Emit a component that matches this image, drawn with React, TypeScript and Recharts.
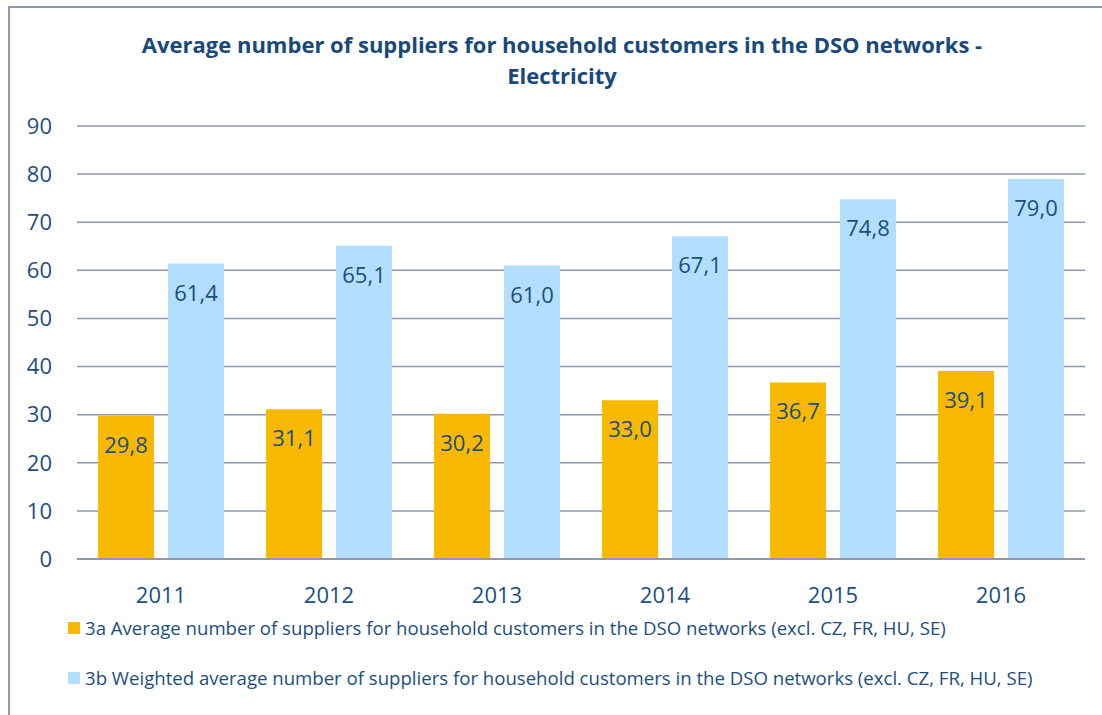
import * as React from "react";
import { Bar, BarChart, CartesianGrid, LabelList, XAxis, YAxis } from "recharts";

const years = ["2011", "2012", "2013", "2014", "2015", "2016"];
const avgSuppliers = [29.8, 31.1, 30.2, 33.0, 36.7, 39.1];
const weightedAvgSuppliers = [61.4, 65.1, 61.0, 67.1, 74.8, 79.0];
const yTicks = [0, 10, 20, 30, 40, 50, 60, 70, 80, 90];

const seriesA = "3a Average number of suppliers for household customers in the DSO networks (excl. CZ, FR, HU, SE)";
const seriesB =
  "3b Weighted average number of suppliers for household customers in the DSO networks (excl. CZ, FR, HU, SE)";

const TEXT = "#1B4F80";
const ORANGE = "#F9B800";
const LIGHT_BLUE = "#B3DEFD";
const GRID = "#8D98AC";
const FONT = "'Open Sans', sans-serif";

const data = years.map((year, i) => ({
  year,
  a: avgSuppliers[i],
  b: weightedAvgSuppliers[i],
}));

const fmt = (v: number) => v.toFixed(1).replace(".", ",");

function BarValue(props: any) {
  const { x, y, width, value } = props;
  return (
    <text
      x={x + width / 2}
      y={y + 37}
      textAnchor="middle"
      fill={TEXT}
      fontSize={22}
      fontFamily={FONT}
    >
      {fmt(value)}
    </text>
  );
}

function LegendRow({ color, label, top }: { color: string; label: string; top: number }) {
  return (
    <div style={{ position: "absolute", left: 68, top, display: "flex", alignItems: "center" }}>
      <div style={{ width: 12, height: 12, background: color, marginRight: 5 }} />
      <span style={{ fontSize: 18.6, color: TEXT, fontFamily: FONT, whiteSpace: "nowrap" }}>{label}</span>
    </div>
  );
}

export default function App() {
  return (
    <div
      style={{
        position: "absolute",
        left: 0,
        top: 0,
        width: 1102,
        height: 715,
        background: "#fff",
        overflow: "hidden",
        fontFamily: FONT,
      }}
    >
      <div
        style={{
          position: "absolute",
          left: 8,
          top: 6,
          width: 1200,
          height: 800,
          borderLeft: `2px solid ${GRID}`,
          borderTop: `2px solid ${GRID}`,
        }}
      />
      <div
        style={{
          position: "absolute",
          left: 0,
          top: 29,
          width: 1124,
          textAlign: "center",
          color: "#17497C",
          fontWeight: 700,
          fontSize: 22,
          lineHeight: "31px",
        }}
      >
        Average number of suppliers for household customers in the DSO networks -
        <br />
        Electricity
      </div>
      <div style={{ position: "absolute", left: 0, top: 0 }}>
        <BarChart
          width={1102}
          height={715}
          data={data}
          margin={{ top: 126, right: 17, bottom: 0, left: 0 }}
          barCategoryGap={21}
          barGap={14}
        >
          <CartesianGrid vertical={false} stroke={GRID} strokeWidth={1.5} />
          <XAxis
            dataKey="year"
            height={156}
            tickSize={0}
            tickMargin={28}
            axisLine={{ stroke: GRID, strokeWidth: 2 }}
            tick={{ fill: TEXT, fontSize: 22, fontFamily: FONT }}
          />
          <YAxis
            width={77}
            domain={[0, 90]}
            ticks={yTicks}
            tickSize={0}
            tickMargin={25}
            axisLine={false}
            tick={{ fill: TEXT, fontSize: 22, fontFamily: FONT }}
          />
          <Bar dataKey="a" fill={ORANGE} isAnimationActive={false}>
            <LabelList dataKey="a" content={BarValue} />
          </Bar>
          <Bar dataKey="b" fill={LIGHT_BLUE} isAnimationActive={false}>
            <LabelList dataKey="b" content={BarValue} />
          </Bar>
        </BarChart>
      </div>
      <LegendRow color={ORANGE} label={seriesA} top={615} />
      <LegendRow color={LIGHT_BLUE} label={seriesB} top={665} />
    </div>
  );
}
